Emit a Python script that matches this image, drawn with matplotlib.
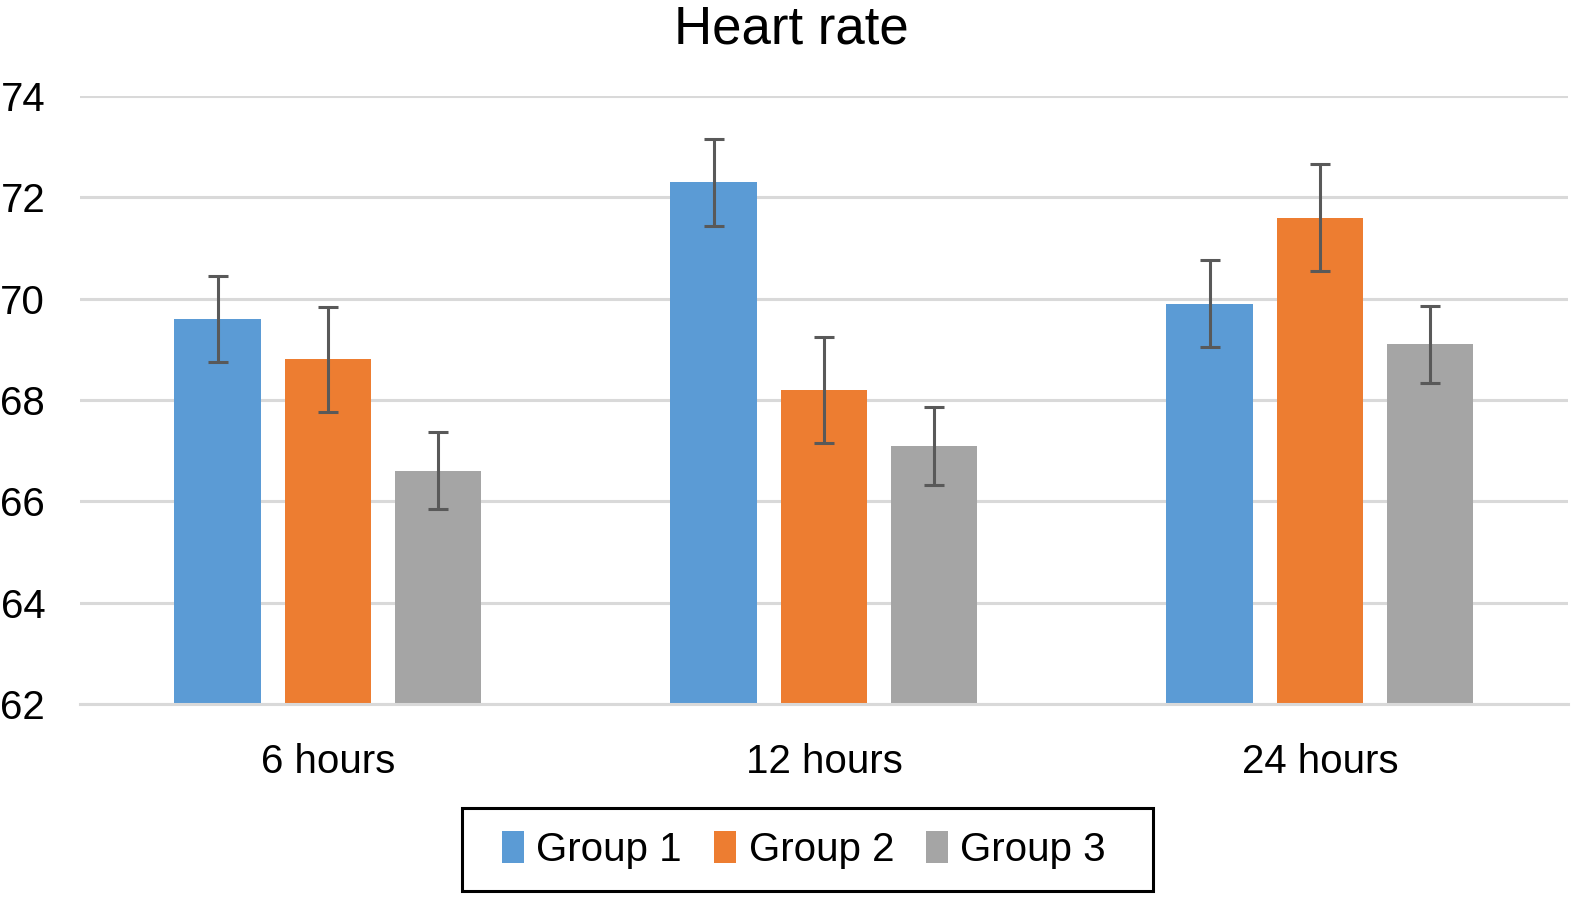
import numpy as np
import matplotlib.pyplot as plt
from matplotlib.patches import Rectangle

plt.rcParams['font.family'] = ['Liberation Sans', 'DejaVu Sans']

# Data
categories = ['6 hours', '12 hours', '24 hours']
groups = ['Group 1', 'Group 2', 'Group 3']
group1 = [69.6, 72.3, 69.9]
group2 = [68.8, 68.2, 71.6]
group3 = [66.6, 67.1, 69.1]
group1_err = [0.85, 0.86, 0.86]
group2_err = [1.04, 1.04, 1.05]
group3_err = [0.76, 0.77, 0.76]

colors = ['#5B9BD5', '#ED7D31', '#A5A5A5']
values = [group1, group2, group3]
errors = [group1_err, group2_err, group3_err]

fig = plt.figure(figsize=(15.83, 9.02), dpi=100)
ax = fig.add_axes([0.0505, 0.2195, 0.94, 0.6741])

x = np.arange(len(categories))
width = 0.175
step = 0.222
for i, (name, vals, errs, c) in enumerate(zip(groups, values, errors, colors)):
    ax.bar(x + (i - 1) * step, vals, width=width, color=c, label=name, zorder=2,
           yerr=errs, error_kw=dict(ecolor='#595959', elinewidth=2.2, capsize=7.5,
                                    capthick=2.2, zorder=3))

ax.set_ylim(62, 74)
ax.set_xlim(-0.5, 2.5)
ax.set_yticks(np.arange(62, 75, 2))
ax.set_xticks(x)
ax.set_xticklabels(categories)
ax.grid(axis='y', color='#D9D9D9', linewidth=2.2, zorder=0)
for s in ['top', 'right', 'left']:
    ax.spines[s].set_visible(False)
ax.spines['bottom'].set_color('#D9D9D9')
ax.spines['bottom'].set_linewidth(2.2)
ax.tick_params(axis='both', length=0, labelsize=29)
ax.tick_params(axis='y', pad=25)
ax.tick_params(axis='x', pad=28)

fig.suptitle('Heart rate', fontsize=38, y=0.995)

# legend without its own frame; a box drawn around it instead
leg = fig.legend(loc='center', bbox_to_anchor=(0.508, 0.0577), ncol=3, fontsize=29,
                 frameon=False, handlelength=0.55, handleheight=0.85,
                 handletextpad=0.3, columnspacing=0.8, borderaxespad=0)
fig.patches.append(Rectangle((462 / 1583, 11 / 902), 691 / 1583, 83 / 902,
                             transform=fig.transFigure, fill=False,
                             edgecolor='black', linewidth=2.2))

fig.savefig('out.png', dpi=100)
